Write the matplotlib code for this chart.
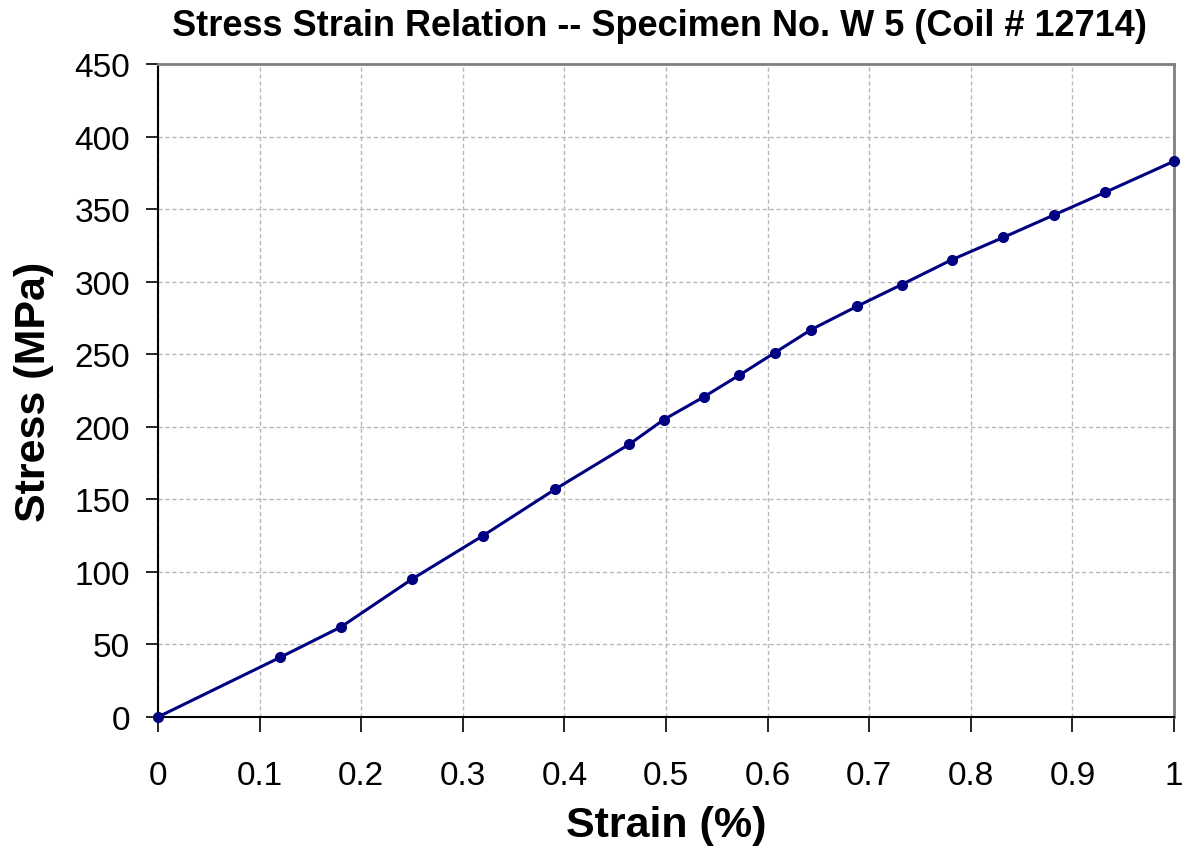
import matplotlib
matplotlib.use("Agg")
import matplotlib.pyplot as plt

plt.rcParams['font.family'] = ['Liberation Sans', 'DejaVu Sans']

# strain (%) and stress (MPa)
strain = [0.0, 0.120, 0.180, 0.250, 0.320, 0.391, 0.464, 0.498, 0.537, 0.572,
          0.607, 0.643, 0.688, 0.732, 0.781, 0.832, 0.882, 0.932, 1.0]
stress = [0.0, 41, 62, 95, 125, 157, 188, 205, 220.5, 235.5,
          251, 267, 283, 298, 315, 330.5, 346, 361.5, 383]

x_ticks = [0, 0.1, 0.2, 0.3, 0.4, 0.5, 0.6, 0.7, 0.8, 0.9, 1]
x_labels = ['0', '0.1', '0.2', '0.3', '0.4', '0.5', '0.6', '0.7', '0.8', '0.9', '1']
y_ticks = list(range(0, 451, 50))

fig = plt.figure(figsize=(11.89, 8.53), dpi=100)
ax = fig.add_axes([0.1329, 0.1583, 0.8545, 0.7655])

ax.plot(strain, stress, color='#000080', linewidth=2.2, marker='o',
        markersize=7, clip_on=False, zorder=3)

ax.set_xlim(0, 1)
ax.set_ylim(0, 450)
ax.set_xticks(x_ticks)
ax.set_xticklabels(x_labels)
ax.set_yticks(y_ticks)
ax.tick_params(axis='both', labelsize=24, direction='out', width=1.2,
               colors='black')
ax.tick_params(axis='x', length=11, pad=20)
ax.tick_params(axis='y', length=9, pad=11)

ax.grid(True, color='#b8b8b8', linestyle=(0, (3, 2)), linewidth=1.0)
ax.set_axisbelow(True)

ax.spines['left'].set_color('black')
ax.spines['bottom'].set_color('black')
ax.spines['left'].set_linewidth(1.5)
ax.spines['bottom'].set_linewidth(1.5)
ax.spines['top'].set_color('#808080')
ax.spines['right'].set_color('#808080')
ax.spines['top'].set_linewidth(2.0)
ax.spines['right'].set_linewidth(2.0)

ax.set_xlabel('Strain (%)', fontsize=31, fontweight='bold', labelpad=10)
ax.set_ylabel('Stress (MPa)', fontsize=31, fontweight='bold', labelpad=15)
fig.suptitle('Stress Strain Relation -- Specimen No. W 5 (Coil # 12714)',
             fontsize=26, fontweight='bold', x=0.555, y=0.99)

fig.savefig('out.png', dpi=100, facecolor='white')
